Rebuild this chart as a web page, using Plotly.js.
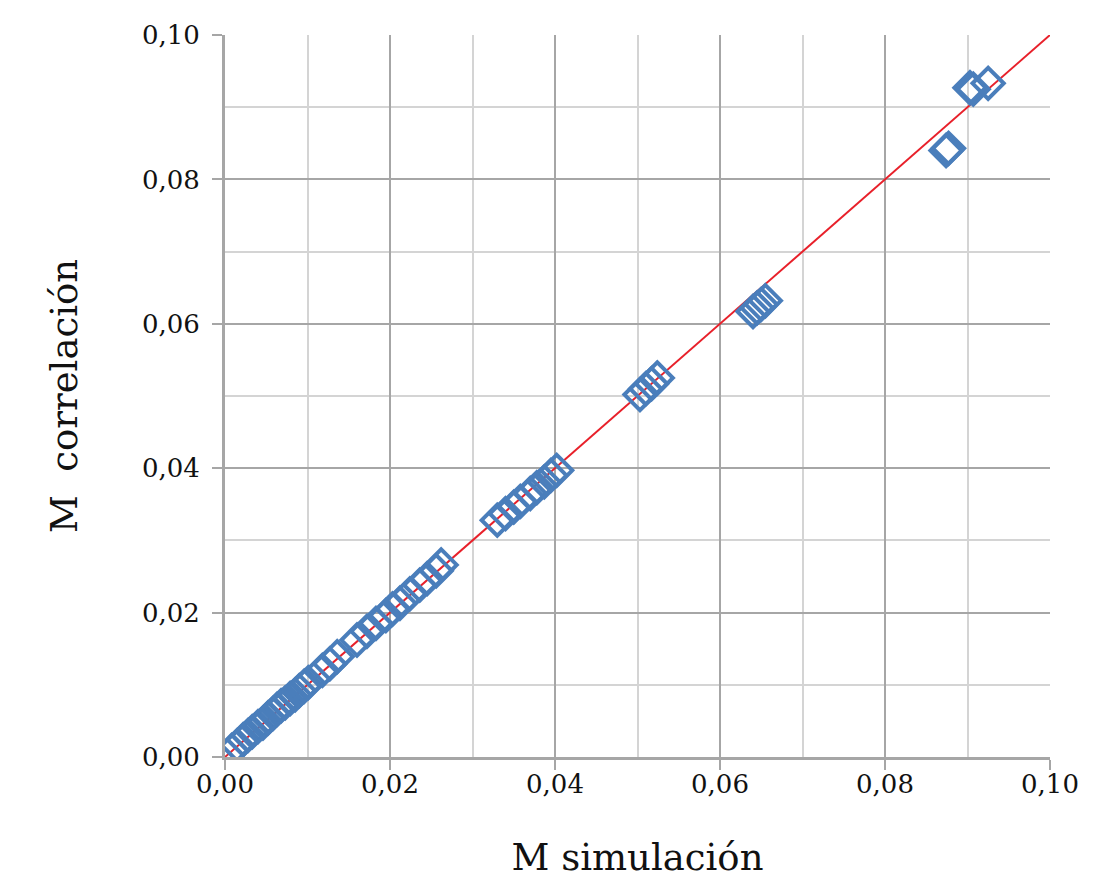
<!DOCTYPE html>
<html>
<head>
<meta charset="utf-8">
<title>M correlación vs M simulación</title>
<script src="https://cdn.plot.ly/plotly-3.0.1.min.js"></script>
<style>
body { margin: 0; background: #fff; }
#plot { width: 1114px; height: 895px; }
</style>
</head>
<body>
<div id="plot"></div>
<script>
// values
var mSim = [0.0008, 0.0015, 0.0022, 0.0028, 0.0033, 0.0040, 0.0046, 0.0052, 0.0058, 0.0063,
            0.0068, 0.0073, 0.0079, 0.0085, 0.0090, 0.0096, 0.0101, 0.0118, 0.0127, 0.0136,
            0.0160, 0.0172, 0.0183, 0.0195, 0.0203, 0.0212, 0.0224, 0.0236, 0.0245, 0.0256, 0.0262,
            0.0330, 0.0340, 0.0350, 0.0358, 0.0370, 0.0378, 0.0387, 0.0395, 0.0402,
            0.0503, 0.0510, 0.0517, 0.0524,
            0.0640, 0.0645, 0.0650, 0.0655,
            0.0874, 0.0877,
            0.0903, 0.0907, 0.0925];
var mCorr = [0.0009, 0.0016, 0.0024, 0.0030, 0.0035, 0.0042, 0.0047, 0.0054, 0.0060, 0.0066,
             0.0071, 0.0075, 0.0081, 0.0086, 0.0092, 0.0098, 0.0103, 0.0120, 0.0129, 0.0139,
             0.0162, 0.0174, 0.0185, 0.0196, 0.0205, 0.0213, 0.0226, 0.0238, 0.0247, 0.0258, 0.0266,
             0.0328, 0.0337, 0.0346, 0.0354, 0.0365, 0.0373, 0.0381, 0.0390, 0.0397,
             0.0502, 0.0510, 0.0517, 0.0525,
             0.0617, 0.0622, 0.0627, 0.0632,
             0.0840, 0.0843,
             0.0927, 0.0925, 0.0933];
var lineX = [0, 0.10];
var lineY = [0, 0.10];
var tickVals = [0, 0.02, 0.04, 0.06, 0.08, 0.10];

var serif = 'DejaVu Serif, Liberation Serif, serif';

var points = {
  x: mSim, y: mCorr,
  type: 'scatter', mode: 'markers',
  marker: { symbol: 'diamond-open', size: 24, color: '#4a7ebb', line: { width: 4, color: '#4a7ebb' } },
  showlegend: false, hoverinfo: 'x+y'
};
var ident = {
  x: lineX, y: lineY,
  type: 'scatter', mode: 'lines',
  line: { color: '#e8202a', width: 2 },
  showlegend: false, hoverinfo: 'skip'
};

function axis(titleText, standoff, labelShift) {
  return {
    range: [0, 0.10],
    tickvals: tickVals,
    tickformat: '.2f',
    ticks: 'outside', ticklen: 10, tickwidth: 2, tickcolor: '#a6a6a6',
    ticklabelstandoff: labelShift,
    showline: true, linecolor: '#a6a6a6', linewidth: 3,
    showgrid: true, gridcolor: '#a6a6a6', gridwidth: 2,
    minor: { dtick: 0.01, showgrid: true, gridcolor: '#d4d4d4', gridwidth: 2, ticks: '' },
    zeroline: false,
    tickfont: { family: serif, size: 26, color: '#111' },
    title: { text: titleText, font: { family: serif, size: 37, color: '#111' }, standoff: standoff },
    automargin: false
  };
}

var layout = {
  width: 1114, height: 895,
  margin: { l: 225, r: 64, t: 35, b: 138 },
  paper_bgcolor: '#fff', plot_bgcolor: '#fff',
  separators: ',.',
  xaxis: axis('M simulación', 46, -8),
  yaxis: axis('M\u00a0\u00a0correlación', 53, 7)
};

Plotly.newPlot('plot', [ident, points], layout, { staticPlot: true });
</script>
</body>
</html>
